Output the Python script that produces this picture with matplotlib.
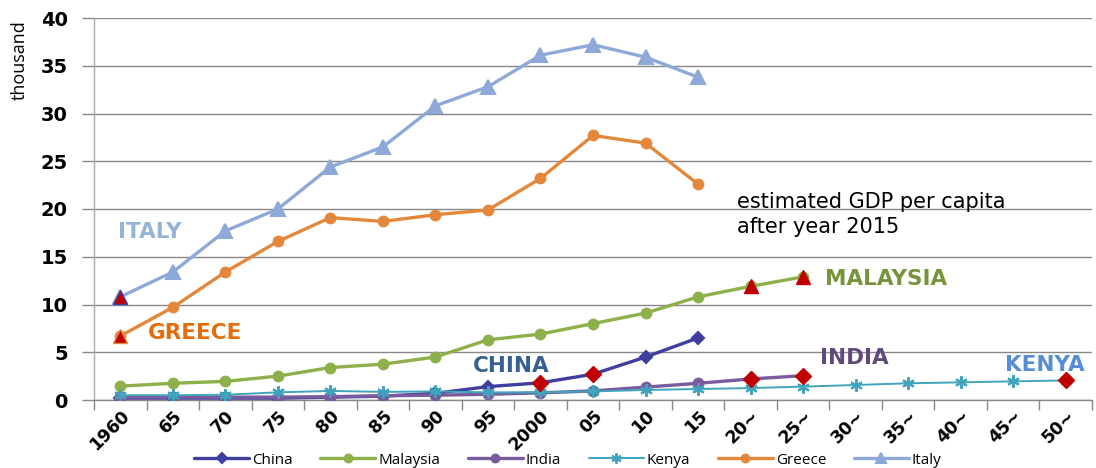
import numpy as np
import matplotlib
matplotlib.use("Agg")
import matplotlib.pyplot as plt

nan = np.nan

# Category labels along the x axis (year, or "~" for estimates)
categories = ["1960", "65", "70", "75", "80", "85", "90", "95", "2000", "05",
              "10", "15", "20~", "25~", "30~", "35~", "40~", "45~", "50~"]

# GDP per capita, thousand
china = [0.2, 0.2, 0.2, 0.2, 0.3, 0.4, 0.7, 1.4, 1.8, 2.7, 4.5, 6.5,
         nan, nan, nan, nan, nan, nan, nan]
malaysia = [1.45, 1.75, 1.95, 2.5, 3.4, 3.75, 4.5, 6.3, 6.9, 8.0, 9.1, 10.8,
            11.9, 12.9, nan, nan, nan, nan, nan]
india = [0.3, 0.3, 0.3, 0.3, 0.35, 0.45, 0.5, 0.6, 0.75, 0.95, 1.35, 1.75,
         2.2, 2.55, nan, nan, nan, nan, nan]
kenya = [0.5, 0.5, 0.55, 0.8, 0.95, 0.85, 0.9, 0.8, 0.8, 0.9, 1.05, 1.15,
         1.25, 1.4, 1.57, 1.75, 1.85, 1.95, 2.05]
greece = [6.7, 9.7, 13.4, 16.6, 19.1, 18.7, 19.4, 19.9, 23.2, 27.7, 26.9, 22.6,
          nan, nan, nan, nan, nan, nan, nan]
italy = [10.8, 13.4, 17.7, 20.0, 24.4, 26.5, 30.8, 32.8, 36.1, 37.2, 35.9, 33.8,
         nan, nan, nan, nan, nan, nan, nan]

# Points highlighted in red (category indices)
china_red = [8, 9]
malaysia_red = [12, 13]
india_red = [12, 13]
kenya_red = [18]
greece_red = [0]
italy_red = [0]

x = np.arange(len(categories))
RED = "#C00000"

fig = plt.figure(figsize=(10.96, 4.68), dpi=100)
ax = fig.add_axes([94 / 1096, 1 - 400 / 468, 998 / 1096, 382 / 468])

series = [
    ("China", china, "#3F3F9F", "D", 6.5, 2.4, china_red, "D"),
    ("Malaysia", malaysia, "#8DB04B", "o", 7, 2.4, malaysia_red, "^"),
    ("India", india, "#7A5C9E", "o", 7, 2.4, india_red, "D"),
    ("Kenya", kenya, "#3FA4BC", (6, 2, 0), 9, 1.4, kenya_red, "D"),
    ("Greece", greece, "#E4873A", "o", 7, 2.4, greece_red, "^"),
    ("Italy", italy, "#8EA9D7", "^", 9.5, 2.4, italy_red, "^"),
]

handles = []
for name, vals, color, mk, ms, lw, red_idx, red_mk in series:
    vals = np.asarray(vals, dtype=float)
    ln, = ax.plot(x, vals, color=color, lw=lw, marker=mk, ms=ms,
                  mec=color, mfc=color, mew=1.5, label=name, zorder=3,
                  solid_capstyle="round")
    handles.append(ln)
    ridx = np.asarray(red_idx)
    rsize = 9.5 if red_mk == "^" else 8
    edge = {"Italy": "#3F3F9F", "Greece": "#E4873A"}.get(name, RED)
    ax.plot(x[ridx], vals[ridx], ls="none", marker=red_mk, ms=rsize,
            mfc=RED, mec=edge, mew=1.0, zorder=4)

ax.set_xlim(-0.5, len(categories) - 0.5)
ax.set_ylim(0, 40)
ax.set_yticks(np.arange(0, 41, 5))
ax.yaxis.grid(True, color="#888888", lw=1.0)
ax.set_axisbelow(True)

ax.set_xticks(x)
ax.set_xticklabels(categories, rotation=45, ha="right", rotation_mode="anchor",
                   fontsize=12.5, fontweight="bold", family="DejaVu Sans")
ax.set_xticks(np.arange(-0.5, len(categories)), minor=True)
ax.tick_params(axis="x", which="major", length=0, pad=5)
ax.tick_params(axis="x", which="minor", length=7, color="#888888", width=1)
ax.tick_params(axis="y", length=9, color="#888888", width=1, pad=10)
for lbl in ax.get_yticklabels():
    lbl.set_fontsize(14)
    lbl.set_fontweight("bold")

for side in ("top", "right"):
    ax.spines[side].set_visible(False)
for side in ("left", "bottom"):
    ax.spines[side].set_color("#AAAAAA")
    ax.spines[side].set_linewidth(1.0)
ax.spines["bottom"].set_color("#888888")

fig.text(20 / 1096, 1 - 60 / 468, "thousand", rotation=90, ha="center",
         va="center", fontsize=13, family="Open Sans")

# Country labels
labels = [
    ("ITALY", -0.05, 17.6, "#95B3D7"),
    ("GREECE", 0.53, 7.0, "#E46C0A"),
    ("CHINA", 6.72, 3.6, "#376092"),
    ("MALAYSIA", 13.42, 12.7, "#77933C"),
    ("INDIA", 13.33, 4.4, "#604A7B"),
    ("KENYA", 16.85, 3.7, "#558ED5"),
]
for txt, lx, ly, c in labels:
    ax.text(lx, ly, txt, color=c, fontsize=15.5, fontweight="bold",
            ha="left", va="center", family="DejaVu Sans", zorder=5)

ax.text(11.75, 20.7, "estimated GDP per capita", fontsize=15,
        ha="left", va="center", family="DejaVu Sans")
ax.text(11.75, 18.1, "after year 2015", fontsize=15,
        ha="left", va="center", family="DejaVu Sans")

fig.legend(handles=handles, loc="center", bbox_to_anchor=(568 / 1096, 1 - 460 / 468),
           ncol=6, frameon=False, handlelength=3.6, markerscale=0.8,
           columnspacing=1.8, handletextpad=0.2,
           prop={"family": "Open Sans", "size": 11})

fig.savefig("out.png", dpi=100)
